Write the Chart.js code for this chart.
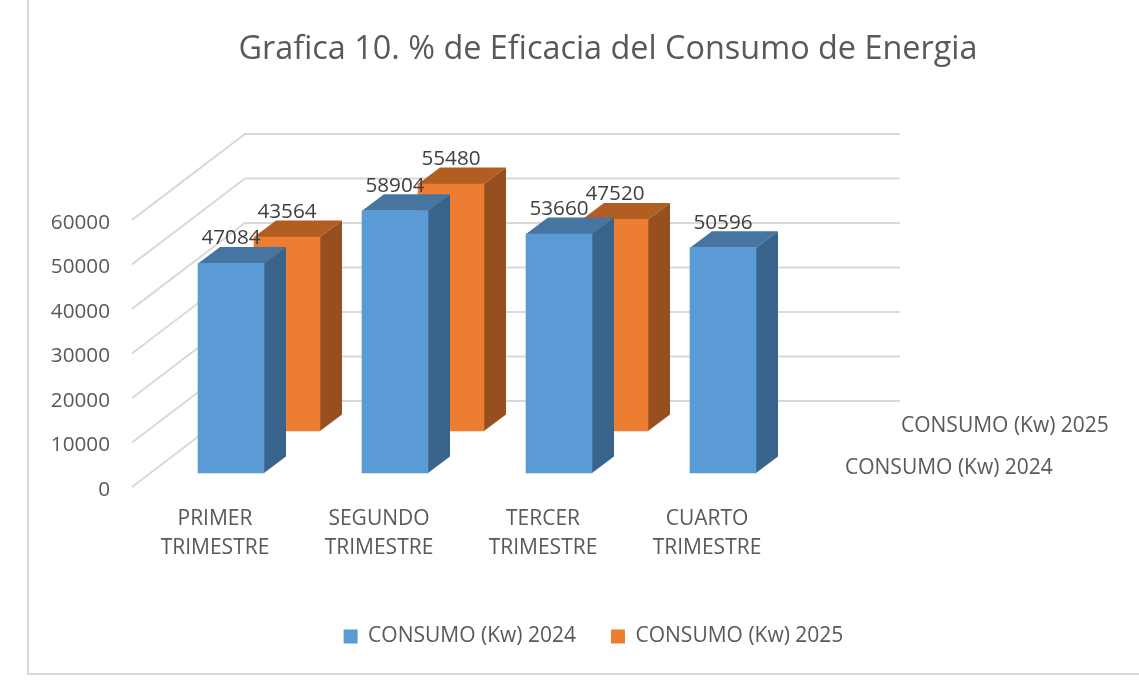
<!DOCTYPE html>
<html>
<head>
<meta charset="utf-8">
<script src="https://cdn.jsdelivr.net/npm/chart.js@4"></script>
<style>
  html, body { margin: 0; background: #fff; overflow: hidden; }
  #frame { position: absolute; left: 27px; top: -2px; width: 1120px; height: 673px; border: 2px solid #d9d9d9; }
  #wrap { position: absolute; left: 0; top: 0; width: 1139px; height: 681px; }
</style>
</head>
<body>
<div id="frame"></div>
<div id="wrap"><canvas id="myChart"></canvas></div>
<script>
const categories = [['PRIMER', 'TRIMESTRE'], ['SEGUNDO', 'TRIMESTRE'], ['TERCER', 'TRIMESTRE'], ['CUARTO', 'TRIMESTRE']];
const consumo2024 = [47084, 58904, 53660, 50596];
const consumo2025 = [43564, 55480, 47520, null];
const seriesNames = ['CONSUMO (Kw) 2024', 'CONSUMO (Kw) 2025'];

const FONT = "'Open Sans', sans-serif";
const TEXT = '#595959';
const GRID = '#d9d9d9';

// fake 3d: how far the second row sits behind the first, and how deep a bar is
const ROW_SHIFT = [{ x: 0, y: 0 }, { x: 56, y: -42 }];
const BAR_DEPTH = { x: 22, y: -16.5 };
const FACES = [
  { top: '#4675a2', side: '#38638a' },
  { top: '#b25d22', side: '#964f1f' }
];

function poly(ctx, color, pts) {
  ctx.fillStyle = color;
  ctx.beginPath();
  pts.forEach((p, i) => i ? ctx.lineTo(p[0], p[1]) : ctx.moveTo(p[0], p[1]));
  ctx.closePath();
  ctx.fill();
}

const fake3d = {
  id: 'fake3d',
  afterLayout(chart) {
    // title and legend are not centred on the canvas in the original
    chart.titleBlock.left = 77;
    chart.titleBlock.right = 1139;
    chart.legend.left = 48;
    chart.legend.right = 1139;
    chart.legend.top = 591;
  },
  beforeDatasetsDraw(chart) {
    const ctx = chart.ctx;
    const y = chart.scales.y;
    const area = chart.chartArea;
    ctx.save();
    ctx.strokeStyle = GRID;
    ctx.lineWidth = 2;
    y.ticks.forEach(t => {
      const py = y.getPixelForValue(t.value);
      ctx.beginPath();
      ctx.moveTo(area.left - 17, py + 14);
      ctx.lineTo(area.left + 96, py - 72);
      ctx.lineTo(area.right + 95, py - 72);
      ctx.stroke();
    });
    ctx.restore();
  },
  beforeDatasetDraw(chart, args) {
    const ctx = chart.ctx;
    const i = args.index;
    const d = BAR_DEPTH;
    ctx.save();
    ctx.translate(ROW_SHIFT[i].x, ROW_SHIFT[i].y);
    args.meta.data.forEach((bar, n) => {
      if (chart.data.datasets[i].data[n] == null) return;
      const l = bar.x - bar.width / 2, r = bar.x + bar.width / 2;
      poly(ctx, FACES[i].top, [[l, bar.y], [l + d.x, bar.y + d.y], [r + d.x, bar.y + d.y], [r, bar.y]]);
      poly(ctx, FACES[i].side, [[r, bar.y], [r + d.x, bar.y + d.y], [r + d.x, bar.base + d.y], [r, bar.base]]);
    });
  },
  afterDatasetDraw(chart) {
    chart.ctx.restore();
  },
  afterDatasetsDraw(chart) {
    const ctx = chart.ctx;
    const area = chart.chartArea;
    ctx.save();
    ctx.textAlign = 'center';
    ctx.textBaseline = 'middle';
    ctx.font = '20.7px ' + FONT;
    ctx.fillStyle = '#404040';
    chart.data.datasets.forEach((ds, i) => {
      chart.getDatasetMeta(i).data.forEach((bar, n) => {
        if (ds.data[n] == null) return;
        ctx.fillText(String(ds.data[n]), bar.x + ROW_SHIFT[i].x, bar.y + ROW_SHIFT[i].y - 25);
      });
    });
    // depth axis labels
    ctx.textAlign = 'left';
    ctx.fillStyle = TEXT;
    ctx.font = '21px ' + FONT;
    chart.data.datasets.forEach((ds, i) => {
      ctx.fillText(ds.label, area.right + 40 + ROW_SHIFT[i].x, area.bottom - 5 + ROW_SHIFT[i].y);
    });
    ctx.restore();
  }
};

new Chart(document.getElementById('myChart'), {
  type: 'bar',
  data: {
    labels: categories,
    datasets: [
      { label: seriesNames[0], data: consumo2024, backgroundColor: '#5b9bd5' },
      { label: seriesNames[1], data: consumo2025, backgroundColor: '#ed7d31' }
    ]
  },
  options: {
    responsive: true,
    maintainAspectRatio: false,
    animation: false,
    layout: { padding: { right: 334 } },
    datasets: { bar: { grouped: false, barThickness: 66, clip: false } },
    scales: {
      x: {
        grid: { display: false },
        border: { display: false },
        afterFit(scale) { scale.height = 142; },
        ticks: {
          color: TEXT,
          font: { family: FONT, size: 21, lineHeight: 1.38 },
          padding: 24,
          labelOffset: -16,
          autoSkip: false,
          maxRotation: 0
        }
      },
      y: {
        min: 0,
        max: 60000,
        grid: { display: false },
        border: { display: false },
        afterFit(scale) { scale.width = 149; },
        ticks: {
          stepSize: 10000,
          color: TEXT,
          font: { family: FONT, size: 20.7 },
          padding: 31,
          labelOffset: 17,
          callback: v => String(v)
        }
      }
    },
    plugins: {
      title: {
        display: true,
        text: 'Grafica 10. % de Eficacia del Consumo de Energia',
        color: TEXT,
        font: { family: FONT, size: 32.4, weight: 'normal' },
        padding: { top: 30, bottom: 137 }
      },
      legend: {
        position: 'bottom',
        labels: {
          color: TEXT,
          font: { family: FONT, size: 21 },
          boxWidth: 14,
          boxHeight: 14,
          padding: 35
        }
      },
      tooltip: { enabled: false }
    }
  },
  plugins: [fake3d]
});
</script>
</body>
</html>
